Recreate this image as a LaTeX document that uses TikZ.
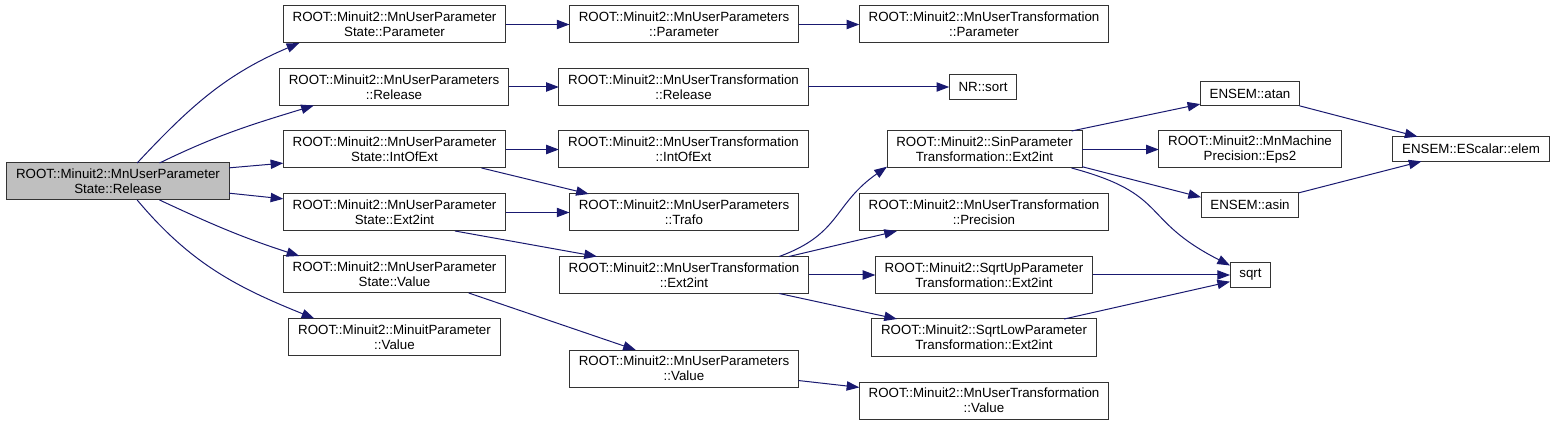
\documentclass[tikz,border=0pt]{standalone}
\usepackage{fontspec}
\setsansfont{Liberation Sans}
\usetikzlibrary{arrows.meta}
\definecolor{edgeblue}{HTML}{191970}
\definecolor{rootgray}{HTML}{BFBFBF}

\begin{document}
\begin{tikzpicture}[x=0.75pt,y=0.75pt,>={Triangle[length=9.5pt,width=7pt]},font=\sffamily\fontsize{10}{11.25}\selectfont,
	fn/.style={draw=black!80,line width=0.75pt,fill=white,align=center,inner xsep=7pt,inner ysep=0pt,minimum height=27.75pt,outer sep=0pt},
	fn1/.style={fn,minimum height=18.5pt},
	call/.style={->,draw=edgeblue,line width=0.75pt}]
	\useasboundingbox (0,0) rectangle (1556,425);

	\node [fn,fill=rootgray] at (118,243.5) (ps_release) {ROOT::Minuit2::MnUserParameter\\State::Release};

	\node [fn] at (394.5,400.5) (ps_param) {ROOT::Minuit2::MnUserParameter\\State::Parameter};
	\node [fn] at (394,338) (ups_release) {ROOT::Minuit2::MnUserParameters\\::Release};
	\node [fn] at (394.5,275.5) (ps_intofext) {ROOT::Minuit2::MnUserParameter\\State::IntOfExt};
	\node [fn] at (394.5,212.5) (ps_ext2int) {ROOT::Minuit2::MnUserParameter\\State::Ext2int};
	\node [fn] at (394.5,150.5) (ps_value) {ROOT::Minuit2::MnUserParameter\\State::Value};
	\node [fn] at (394.5,88) (mp_value) {ROOT::Minuit2::MinuitParameter\\::Value};

	\node [fn] at (684,400.5) (ups_param) {ROOT::Minuit2::MnUserParameters\\::Parameter};
	\node [fn] at (683.5,338) (ut_release) {ROOT::Minuit2::MnUserTransformation\\::Release};
	\node [fn] at (683.5,275.5) (ut_intofext) {ROOT::Minuit2::MnUserTransformation\\::IntOfExt};
	\node [fn] at (684,212.5) (ups_trafo) {ROOT::Minuit2::MnUserParameters\\::Trafo};
	\node [fn] at (684,150) (ut_ext2int) {ROOT::Minuit2::MnUserTransformation\\::Ext2int};
	\node [fn] at (684,56.5) (ups_value) {ROOT::Minuit2::MnUserParameters\\::Value};

	\node [fn] at (984,400.5) (ut_param) {ROOT::Minuit2::MnUserTransformation\\::Parameter};
	\node [fn1] at (983,338) (nr_sort) {NR::sort};
	\node [fn] at (984.5,275.5) (sin_ext2int) {ROOT::Minuit2::SinParameter\\Transformation::Ext2int};
	\node [fn] at (984,212.5) (ut_precision) {ROOT::Minuit2::MnUserTransformation\\::Precision};
	\node [fn] at (984,150) (sqrtup_ext2int) {ROOT::Minuit2::SqrtUpParameter\\Transformation::Ext2int};
	\node [fn] at (984,87.5) (sqrtlow_ext2int) {ROOT::Minuit2::SqrtLowParameter\\Transformation::Ext2int};
	\node [fn] at (984,24.5) (ut_value) {ROOT::Minuit2::MnUserTransformation\\::Value};

	\node [fn1] at (1250,331.5) (ensem_atan) {ENSEM::atan};
	\node [fn] at (1250,275.5) (mp_eps2) {ROOT::Minuit2::MnMachine\\Precision::Eps2};
	\node [fn1] at (1250,220) (ensem_asin) {ENSEM::asin};
	\node [fn1] at (1250.5,150) (sqrt_fn) {sqrt};
	\node [fn1] at (1471,276) (escalar_elem) {ENSEM::EScalar::elem};

	\draw [call] (ps_release.44) to[out=47,in=203] (ps_param.191);
	\draw [call] (ps_release.24) to[out=26,in=197] (ups_release.193);
	\draw [call] (ps_release.7) -- (ps_intofext.187);
	\draw [call] (ps_release.-6) -- (ps_ext2int.173);
	\draw [call] (ps_release.-24) to[out=-25,in=162] (ps_value.169);
	\draw [call] (ps_release.-44) to[out=-50,in=158] (mp_value.167);

	\draw [call] (ps_param) -- (ups_param);
	\draw [call] (ups_param) -- (ut_param);
	\draw [call] (ups_release) -- (ut_release);
	\draw [call] (ut_release) -- (nr_sort);
	\draw [call] (ps_intofext) -- (ut_intofext);
	\draw [call] (ps_intofext.-12) -- (ups_trafo.169);
	\draw [call] (ps_ext2int) -- (ups_trafo);
	\draw [call] (ps_ext2int.-17) -- (ut_ext2int.168);
	\draw [call] (ps_value.-14) -- (ups_value.159);
	\draw [call] (ups_value.-6) -- (ut_value.174);

	\draw [call] (ut_ext2int.11) to[out=20,in=215,looseness=1.2] (sin_ext2int.190);
	\draw [call] (ut_ext2int.10) -- (ut_precision.192);
	\draw [call] (ut_ext2int) -- (sqrtup_ext2int);
	\draw [call] (ut_ext2int.-11) -- (sqrtlow_ext2int.168);

	\draw [call] (sin_ext2int.12) -- (ensem_atan.192);
	\draw [call] (sin_ext2int) -- (mp_eps2);
	\draw [call] (sin_ext2int.-10) -- (ensem_asin.171);
	\draw [call] (sin_ext2int.-12) to[out=-15,in=153,looseness=1.4] (sqrt_fn.155);
	\draw [call] (sqrtup_ext2int) -- (sqrt_fn);
	\draw [call] (sqrtlow_ext2int.13) -- (sqrt_fn.198);
	\draw [call] (ensem_atan.-14) -- (escalar_elem.167);
	\draw [call] (ensem_asin.14) -- (escalar_elem.194);
\end{tikzpicture}
\end{document}
